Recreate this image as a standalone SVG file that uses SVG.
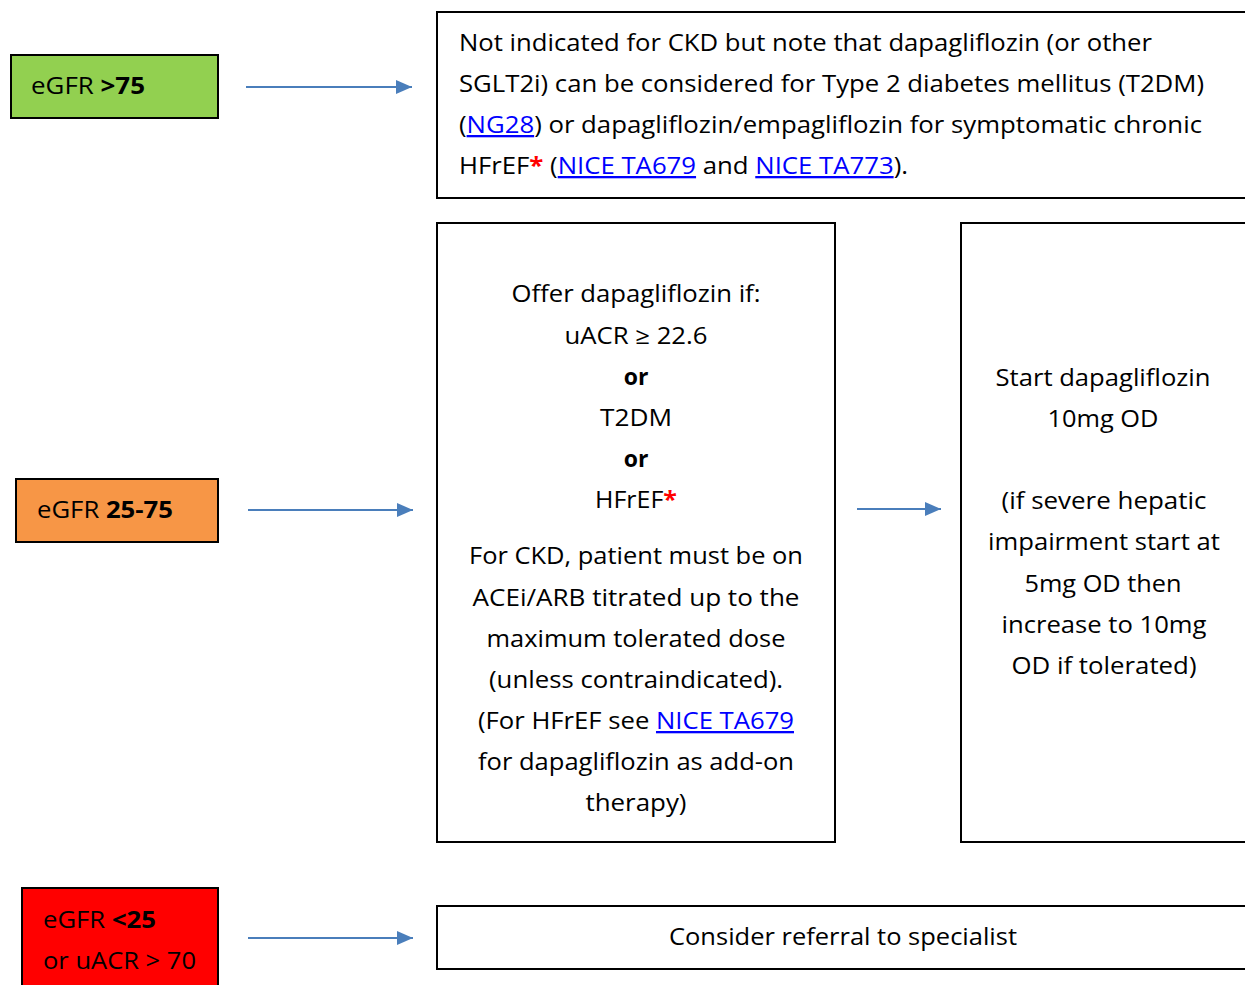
<svg xmlns="http://www.w3.org/2000/svg" width="1245" height="985" viewBox="0 0 1245 985">
<style>
.box{fill:#fff;stroke:#000;stroke-width:2}
.t{font-family:"Open Sans","Liberation Sans",sans-serif;font-size:23px;fill:#000}
.c{text-anchor:middle}
.b{font-weight:bold}
.lk{fill:#0000FF;text-decoration:underline}
.st{fill:#FF0000;font-weight:bold}
.con{stroke:#4A7EBB;stroke-width:2;fill:none}
</style>
<defs>
<marker id="ah" markerUnits="userSpaceOnUse" markerWidth="18" markerHeight="14" refX="16" refY="7" orient="auto">
<path d="M0,0 L16,7 L0,14 Z" fill="#4A7EBB"/>
</marker>
</defs>
<rect width="1245" height="985" fill="#fff"/>
<g id="connectors">
<line class="con" x1="246" y1="87" x2="412" y2="87" marker-end="url(#ah)"/>
<line class="con" x1="248" y1="510" x2="413" y2="510" marker-end="url(#ah)"/>
<line class="con" x1="857" y1="509" x2="941" y2="509" marker-end="url(#ah)"/>
<line class="con" x1="248" y1="938" x2="413" y2="938" marker-end="url(#ah)"/>
</g>
<g id="egfr75">
<rect x="11" y="55" width="207" height="63" fill="#92D050" stroke="#000" stroke-width="2"/>
<text class="t" x="31" y="94" textLength="114" lengthAdjust="spacingAndGlyphs">eGFR <tspan class="b">&gt;75</tspan></text>
</g>
<g id="egfr25-75">
<rect x="16" y="479" width="202" height="63" fill="#F79646" stroke="#000" stroke-width="2"/>
<text class="t" x="37" y="518" textLength="136" lengthAdjust="spacingAndGlyphs">eGFR <tspan class="b">25-75</tspan></text>
</g>
<g id="egfr25">
<rect x="22" y="888" width="196" height="110" fill="#FF0000" stroke="#000" stroke-width="2"/>
<text class="t" x="43" y="928" textLength="113" lengthAdjust="spacingAndGlyphs">eGFR <tspan class="b">&lt;25</tspan></text>
<text class="t" x="43" y="969" textLength="153" lengthAdjust="spacingAndGlyphs">or uACR &gt; 70</text>
</g>
<g id="not-indicated">
<rect class="box" x="437" y="12" width="820" height="186"/>
<text class="t" x="459" y="51" textLength="693" lengthAdjust="spacingAndGlyphs">Not indicated for CKD but note that dapagliflozin (or other</text>
<text class="t" x="459" y="92" textLength="745" lengthAdjust="spacingAndGlyphs">SGLT2i) can be considered for Type 2 diabetes mellitus (T2DM)</text>
<text class="t" x="459" y="133" textLength="743" lengthAdjust="spacingAndGlyphs">(<tspan class="lk">NG28</tspan>) or dapagliflozin/empagliflozin for symptomatic chronic</text>
<text class="t" x="459" y="174" textLength="449" lengthAdjust="spacingAndGlyphs">HFrEF<tspan class="st">*</tspan> (<tspan class="lk">NICE TA679</tspan> and <tspan class="lk">NICE TA773</tspan>).</text>
</g>
<g id="offer">
<rect class="box" x="437" y="223" width="398" height="619"/>
<text class="t c" x="636" y="302" textLength="249" lengthAdjust="spacingAndGlyphs">Offer dapagliflozin if:</text>
<text class="t c" x="636" y="344" textLength="143" lengthAdjust="spacingAndGlyphs">uACR ≥ 22.6</text>
<text class="t c b" x="636" y="385">or</text>
<text class="t c" x="636" y="426" textLength="72" lengthAdjust="spacingAndGlyphs">T2DM</text>
<text class="t c b" x="636" y="467">or</text>
<text class="t c" x="636" y="508" textLength="82" lengthAdjust="spacingAndGlyphs">HFrEF<tspan class="st">*</tspan></text>
<text class="t c" x="636" y="564" textLength="334" lengthAdjust="spacingAndGlyphs">For CKD, patient must be on</text>
<text class="t c" x="636" y="606" textLength="327" lengthAdjust="spacingAndGlyphs">ACEi/ARB titrated up to the</text>
<text class="t c" x="636" y="647" textLength="299" lengthAdjust="spacingAndGlyphs">maximum tolerated dose</text>
<text class="t c" x="636" y="688" textLength="294" lengthAdjust="spacingAndGlyphs">(unless contraindicated).</text>
<text class="t c" x="636" y="729" textLength="316" lengthAdjust="spacingAndGlyphs">(For HFrEF see <tspan class="lk">NICE TA679</tspan></text>
<text class="t c" x="636" y="770" textLength="316" lengthAdjust="spacingAndGlyphs">for dapagliflozin as add-on</text>
<text class="t c" x="636" y="811" textLength="101" lengthAdjust="spacingAndGlyphs">therapy)</text>
</g>
<g id="start">
<rect class="box" x="961" y="223" width="300" height="619"/>
<text class="t c" x="1103" y="386" textLength="215" lengthAdjust="spacingAndGlyphs">Start dapagliflozin</text>
<text class="t c" x="1103" y="427" textLength="111" lengthAdjust="spacingAndGlyphs">10mg OD</text>
<text class="t c" x="1104" y="509" textLength="205" lengthAdjust="spacingAndGlyphs">(if severe hepatic</text>
<text class="t c" x="1104" y="550" textLength="232" lengthAdjust="spacingAndGlyphs">impairment start at</text>
<text class="t c" x="1103" y="592" textLength="157" lengthAdjust="spacingAndGlyphs">5mg OD then</text>
<text class="t c" x="1104" y="633" textLength="205" lengthAdjust="spacingAndGlyphs">increase to 10mg</text>
<text class="t c" x="1104" y="674" textLength="185" lengthAdjust="spacingAndGlyphs">OD if tolerated)</text>
</g>
<g id="referral">
<rect class="box" x="437" y="906" width="820" height="63"/>
<text class="t c" x="843" y="945" textLength="348" lengthAdjust="spacingAndGlyphs">Consider referral to specialist</text>
</g>
</svg>
